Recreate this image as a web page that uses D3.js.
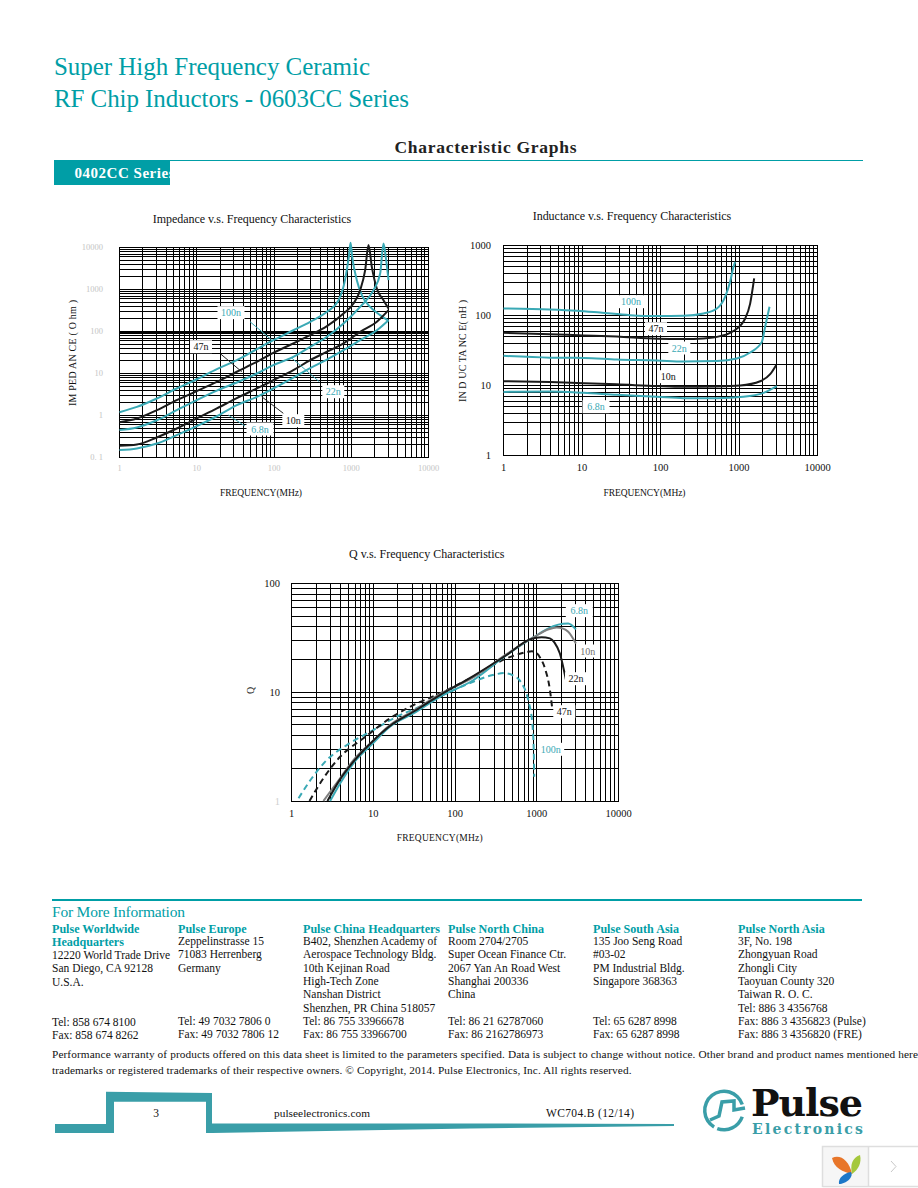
<!DOCTYPE html>
<html><head><meta charset="utf-8">
<script src="https://cdn.jsdelivr.net/npm/d3@7/dist/d3.min.js"></script>
<style>html,body{margin:0;padding:0;background:#fff;overflow:hidden}svg{display:block}text{font-family:"Liberation Serif",serif}</style>
</head><body><svg id="page" width="918" height="1188"></svg>
<script>
// ---------- data ----------
const impFreqCommon = [1,1.68,3.04,5.5,10,18.2,33,60,98,178,294,485];
const impFreq100 = [...impFreqCommon,685,830,930,980,1028,1181,1371,1758,2368,3036];
const imp100 = [1.2,1.6,2.54,4.4,7.3,12.7,20.8,38,62,107,170,294,557,1670,6000,12900,6000,1670,733,386,245,179];
const impFreq47 = [...impFreqCommon,794,1069,1304,1514,1672,1847,2143,2614,3036];
const imp47 = [0.69,0.85,1.34,2.32,3.8,6.3,11,19,31,52,82,134,268,464,964,2885,11400,3467,1056,557,353];
const impFreq22 = [...impFreqCommon,794,1304,1941,2368,2614,2831,3036];
const imp22 = [0.45,0.52,0.77,1.34,2.32,3.9,6.1,10,15.8,25,43,75,155,386,964,2400,12400,4990,1670];
const impFreq10 = [...impFreqCommon,794,1304,2143,3036];
const imp10 = [0.19,0.204,0.30,0.49,0.85,1.47,2.6,4.4,6.9,12,20.8,33,52,98,170,322];
const impFreq68 = [...impFreqCommon,794,1304,2143,3036];
const imp68 = [0.15,0.164,0.215,0.34,0.557,0.96,1.76,2.78,4.4,8.0,13.5,21.5,36,62,107,186];

const indFreq100 = [1,3.93,8.6,17,41,90,196,353,522,666,771,851,893];
const ind100 = [126,122,117,110,101,98,99,107,126,185,303,496,584];
const indFreq47 = [1,3.93,10.5,27.8,90,196,353,575,851,1199,1387,1560];
const ind47 = [56.5,54,52,50,46.4,46,47,50.7,60,90.6,148,338];
const indFreq22 = [1,3.93,10.5,27.8,90,196,522,938,1387,1954,2153,2447];
const ind22 = [26.5,25,24.8,23.5,22.8,22,22.3,24.3,29.6,42,69,133];
const indFreq10 = [1,3.93,10.5,27.8,90,196,522,1035,1860,2495,2972];
const ind10 = [11.5,11.2,10.8,10.4,9.8,9.57,9.68,10,11.5,14.5,19.5];
const indFreq68 = [1,3.93,10.5,27.8,90,196,522,1140,2052,3034];
const ind68 = [8.1,8.2,7.85,7.35,6.9,6.6,6.6,6.9,7.85,9.8];

const qFreq68 = [2.97,3.93,5.72,9.7,16,31,65.5,167,428,906,1591,2100,2427,3012];
const q68 = [1,1.45,2.22,3.34,4.82,6.39,9.09,12.9,22,31.9,40.5,42.6,42.9,37.8];
const qFreq10 = [2.46,3.93,5.72,9.7,16,31,65.5,167,428,906,1400,1747,2100,2427,3012];
const q10 = [1,1.62,2.38,3.51,4.99,6.76,9.62,13.7,22.4,31.9,38,39.4,38.5,36,28.1];
const qFreq22 = [2.75,3.93,5.72,9.7,16,31,65.5,167,428,825,1147,1449,1650,1919,2148,2271];
const q22 = [1,1.58,2.3,3.51,4.89,6.62,9.42,14.1,22,30.6,32,31.3,28.6,22.7,16,13.1];
const qFreq47 = [1.66,2.46,3.93,7.58,16,31,65.5,167,428,751,870,995,1100,1259,1449,1546];
const q47 = [1,1.62,2.55,3.77,5.75,7.62,9.75,13.9,20.5,23.4,23.8,22.9,20.8,16.6,10.5,7.1];
const qFreq100 = [1.22,1.77,2.7,4.75,10,19.4,37,79,167,290,400,520,653,787,890,923,931];
const q100 = [1.06,1.62,2.38,3.27,4.49,5.96,7.36,9.75,12.5,14.4,15,14.2,12.1,8.47,4.82,2.55,1.67];

const xTickLabels = ["1","10","100","1000","10000"];
const impYLabels = ["0. 1","1","10","100","1000","10000"];
const indYLabels = ["1","10","100","1000"];
const qYLabels = ["1","10","100"];

const officeCols = [
 {h:["Pulse Worldwide","Headquarters"],l:["12220 World Trade Drive","San Diego, CA 92128","U.S.A.","","","Tel: 858 674 8100","Fax: 858 674 8262"]},
 {h:["Pulse Europe"],l:["Zeppelinstrasse 15","71083 Herrenberg","Germany","","","","Tel: 49 7032 7806 0","Fax: 49 7032 7806 12"]},
 {h:["Pulse China Headquarters"],l:["B402, Shenzhen Academy of","Aerospace Technology Bldg.","10th Kejinan Road","High-Tech Zone","Nanshan District","Shenzhen, PR China 518057","Tel: 86 755 33966678","Fax: 86 755 33966700"]},
 {h:["Pulse North China"],l:["Room 2704/2705","Super Ocean Finance Ctr.","2067 Yan An Road West","Shanghai 200336","China","","Tel: 86 21 62787060","Fax: 86 2162786973"]},
 {h:["Pulse South Asia"],l:["135 Joo Seng Road","#03-02","PM Industrial Bldg.","Singapore 368363","","","Tel: 65 6287 8998","Fax: 65 6287 8998"]},
 {h:["Pulse North Asia"],l:["3F, No. 198","Zhongyuan Road","Zhongli City","Taoyuan County 320","Taiwan R. O. C.","Tel: 886 3 4356768","Fax: 886 3 4356823 (Pulse)","Fax: 886 3 4356820 (FRE)"]}
];

// ---------- helpers ----------
const svg = d3.select("#page");
const TEAL="#009ea6", CURVE="#3aa9b5", BAND="#3a9ea8", INK="#111";
function txt(g,x,y,s,o={}){
  const t=g.append("text").attr("x",x).attr("y",y).text(s)
    .attr("font-size",o.size||11).attr("fill",o.fill||INK)
    .attr("font-weight",o.weight||"normal").attr("text-anchor",o.anchor||"start");
  if(o.len) t.attr("textLength",o.len).attr("lengthAdjust","spacing");
  if(o.family) t.style("font-family",o.family);
  return t;
}
function minorTicks(lo,hi){const a=[];for(let d=lo;d<hi;d++)for(let m=1;m<10;m++)a.push(m*Math.pow(10,d));a.push(Math.pow(10,hi));return a;}

function chart(c){
  const g=svg.append("g");
  const x=d3.scaleLog().domain([1,10000]).range([c.x0,c.x1]);
  const y=d3.scaleLog().domain(c.yDomain).range([c.y1,c.y0]);
  const yLo=Math.round(Math.log10(c.yDomain[0])), yHi=Math.round(Math.log10(c.yDomain[1]));
  const gx=g.append("g").attr("transform",`translate(0,${c.y1})`)
    .call(d3.axisBottom(x).offset(0).tickValues(minorTicks(0,4)).tickSize(-(c.y1-c.y0)).tickFormat(""));
  const gy=g.append("g").attr("transform",`translate(${c.x0},0)`)
    .call(d3.axisLeft(y).offset(0).tickValues(minorTicks(yLo,yHi)).tickSize(-(c.x1-c.x0)).tickFormat(""));
  [gx,gy].forEach(a=>{a.selectAll("line").attr("stroke","#000").attr("stroke-width",1).attr("shape-rendering","crispEdges");
    a.select(".domain").attr("stroke","#000").attr("shape-rendering","crispEdges");});
  if(c.heavy) gy.selectAll(".tick").filter(d=>d===c.heavy).select("line").attr("stroke-width",2);
  // tick labels
  xTickLabels.forEach((s,i)=>txt(g,x(Math.pow(10,i))+(c.xLabelDx||0),c.xLabelY,s,{size:c.tickSize,fill:c.xTickFill,anchor:"middle"}));
  c.yLabels.forEach((s,i)=>{
    const fill=(c.firstYFill&&i===0)?c.firstYFill:c.yTickFill;
    txt(g,c.yLabelX,y(Math.pow(10,yLo+i))+c.tickSize*0.34,s,{size:c.tickSize,fill,anchor:"end"});
  });
  // curves
  const line=d3.line().x(d=>x(d[0])).y(d=>y(d[1])).curve(d3.curveMonotoneX);
  c.series.forEach(s=>{
    g.append("path").datum(d3.zip(s.f,s.v)).attr("d",line).attr("fill","none")
     .attr("stroke",s.color).attr("stroke-width",s.w||2).attr("stroke-dasharray",s.dash||null);
  });
  // annotations
  (c.leaders||[]).forEach(l=>g.append("line").attr("x1",l[0]).attr("y1",l[1]).attr("x2",l[2]).attr("y2",l[3]).attr("stroke",l[4]).attr("stroke-width",1));
  (c.notes||[]).forEach(n=>{
    const w=n.t.length*5+7;
    g.append("rect").attr("x",n.x-w/2).attr("y",n.y-6.5).attr("width",w).attr("height",13).attr("fill","#fff");
    txt(g,n.x,n.y+3.5,n.t,{size:10,fill:n.c,anchor:"middle"});
  });
  return g;
}

// ---------- header ----------
const head=svg.append("g");
txt(head,54,75,"Super High Frequency Ceramic",{size:25,fill:TEAL,len:316});
txt(head,54,106.5,"RF Chip Inductors - 0603CC Series",{size:25,fill:TEAL,len:355});
txt(head,394.5,152.5,"Characteristic Graphs",{size:17.5,weight:"bold",fill:"#222",len:182});
head.append("line").attr("x1",54).attr("x2",863).attr("y1",160.5).attr("y2",160.5).attr("stroke",TEAL).attr("stroke-width",1);
head.append("rect").attr("x",54).attr("y",161).attr("width",116).attr("height",24).attr("fill",TEAL);
svg.append("clipPath").attr("id","seriesClip").append("rect").attr("x",54).attr("y",161).attr("width",116).attr("height",24);
txt(head.append("g").attr("clip-path","url(#seriesClip)"),74.5,178,"0402CC Series",{size:15,weight:"bold",fill:"#fff",len:100});

// ---------- charts ----------
chart({x0:119.5,x1:428.5,y0:247.5,y1:457.5,yDomain:[0.1,10000],heavy:100,
  tickSize:8.5,xTickFill:"#c4c4c4",yTickFill:"#c4c4c4",xLabelY:471,yLabelX:103,yLabels:impYLabels,
  series:[
   {f:impFreq100,v:imp100,color:CURVE},{f:impFreq47,v:imp47,color:"#1a1a1a"},
   {f:impFreq22,v:imp22,color:CURVE},{f:impFreq10,v:imp10,color:"#1a1a1a"},{f:impFreq68,v:imp68,color:CURVE}],
  leaders:[[250,321.7,271.7,340,CURVE],[220.7,354,241.7,371.7,"#222"],[291.7,358,319.3,381.7,CURVE],[261.7,396.7,283.3,413.3,"#222"],[228.3,415,245,426,CURVE]],
  notes:[{t:"100n",x:231,y:312.7,c:CURVE},{t:"47n",x:201,y:346.7,c:INK},{t:"22n",x:333.3,y:391.7,c:CURVE},{t:"10n",x:293.3,y:420.7,c:INK},{t:"6.8n",x:260,y:429,c:CURVE}]
});
chart({x0:503.5,x1:817.5,y0:245.5,y1:455.5,yDomain:[1,1000],
  tickSize:10.5,xTickFill:INK,yTickFill:INK,xLabelY:471,yLabelX:491,yLabels:indYLabels,
  series:[
   {f:indFreq100,v:ind100,color:CURVE},{f:indFreq47,v:ind47,color:"#1a1a1a"},
   {f:indFreq22,v:ind22,color:CURVE},{f:indFreq10,v:ind10,color:"#1a1a1a"},{f:indFreq68,v:ind68,color:CURVE}],
  notes:[{t:"100n",x:631,y:301.7,c:CURVE},{t:"47n",x:656,y:328.7,c:INK},{t:"22n",x:679.3,y:348,c:CURVE},{t:"10n",x:668.3,y:376.7,c:INK},{t:"6.8n",x:596,y:406.7,c:CURVE}]
});
chart({x0:291.5,x1:618.5,y0:583.5,y1:801,yDomain:[1,100],
  tickSize:10.5,xTickFill:INK,yTickFill:INK,firstYFill:"#d0d0d0",xLabelY:817,yLabelX:280,yLabels:qYLabels,
  series:[
   {f:qFreq100,v:q100,color:CURVE,dash:"6,4"},{f:qFreq47,v:q47,color:"#1a1a1a",dash:"6,4"},
   {f:qFreq68,v:q68,color:CURVE},{f:qFreq10,v:q10,color:"#808080"},{f:qFreq22,v:q22,color:"#1a1a1a"}],
  notes:[{t:"6.8n",x:579.3,y:610.7,c:CURVE},{t:"10n",x:587.7,y:651,c:"#707070"},{t:"22n",x:576,y:678.7,c:INK},{t:"47n",x:564.3,y:711.7,c:INK},{t:"100n",x:550.7,y:749.3,c:CURVE}]
});

// chart titles and axis captions
const cap=svg.append("g");
txt(cap,152.7,223,"Impedance v.s. Frequency Characteristics",{size:12,len:198.5});
txt(cap,532.7,220,"Inductance v.s. Frequency Characteristics",{size:12,len:198.5});
txt(cap,349,558,"Q v.s. Frequency Characteristics",{size:12,len:155.5});
txt(cap,220,496,"FREQUENCY(MHz)",{size:9.5,len:82});
txt(cap,603.5,496,"FREQUENCY(MHz)",{size:9.5,len:82});
txt(cap,396.7,840.7,"FREQUENCY(MHz)",{size:9.5,len:86});
function vtext(x,y,s,len,size){txt(cap,0,0,s,{size:size||10,len}).attr("transform",`translate(${x},${y}) rotate(-90)`);}
vtext(75.5,406,"IM PED  AN CE ( O hm  )",106);
vtext(465.5,402,"IN D UC  TA  NC  E( nH  )",102);
vtext(253.5,694,"Q",7);

// ---------- footer ----------
const foot=svg.append("g");
foot.append("line").attr("x1",52).attr("x2",862).attr("y1",900).attr("y2",900).attr("stroke",TEAL).attr("stroke-width",2);
txt(foot,52,916.7,"For More Information",{size:15.5,fill:TEAL,len:133});
const colX=[52,178,303,448,593,738], LH=13.35;
officeCols.forEach((c,i)=>{
  c.h.forEach((s,j)=>txt(foot,colX[i],932.7+j*13,s,{size:12.1,weight:"bold",fill:TEAL}));
  c.l.forEach((s,j)=>{ if(s) txt(foot,colX[i],(932.7+c.h.length*13)+j*LH-(c.h.length===2?-0.3:0.7),s,{size:11.5}); });
});
txt(foot,52,1058,"Performance warranty of products offered on this data sheet is limited to the parameters specified. Data is subject to change without notice. Other brand and product names mentioned here",{size:11.3,len:866});
txt(foot,52,1074,"trademarks or registered trademarks of their respective owners. © Copyright, 2014. Pulse Electronics, Inc. All rights reserved.",{size:11.3,len:579.5});

// page band
foot.append("path").attr("fill",BAND).attr("d","M55,1124H106V1091.7L212,1093V1123.5L470,1123.5L674,1124V1126L470,1128.5L212,1133H206V1101.7H114V1133H55Z");
txt(foot,156,1116.7,"3",{size:11.5,anchor:"middle"});
txt(foot,274,1116.5,"pulseelectronics.com",{size:11.3,len:96});
txt(foot,546,1116.7,"WC704.B (12/14)",{size:11.5,len:88});

// logo
const logo=svg.append("g");
const arc=d3.arc().innerRadius(17.5).outerRadius(21);
logo.append("path").attr("transform","translate(724,1110.5)").attr("fill",BAND).attr("d",arc({startAngle:-2.6,endAngle:1.25}));
logo.append("path").attr("transform","translate(724,1110.5)").attr("fill",BAND).attr("d",arc({startAngle:1.9,endAngle:3.5}));
logo.append("path").attr("fill","none").attr("stroke",BAND).attr("stroke-width",3.5).attr("stroke-linejoin","miter")
  .attr("d","M710,1120L719,1116L722,1102L734,1101L734,1110L745,1108");
txt(logo,751,1116,"Pulse",{size:38,weight:"bold",fill:"#111",len:112,family:"'DejaVu Serif',serif"});
txt(logo,752,1133.5,"Electronics",{size:14,weight:"bold",fill:BAND,len:111,family:"'DejaVu Serif',serif"});

// viewer widget
const w=svg.append("g");
w.append("rect").attr("x",822.5).attr("y",1146.5).attr("width",46).attr("height",39).attr("fill","#f6f6f6");
w.append("path").attr("fill","none").attr("stroke","#dedede").attr("stroke-width",1.5).attr("d","M822.5,1187V1146.5H918M868.5,1146.5V1187M822.5,1186.5H918");
w.append("path").attr("fill","#e8762a").attr("d","M832,1158C840,1154 849,1160 852,1174C843,1172 834,1168 832,1158Z");
w.append("path").attr("fill","#a5c83c").attr("d","M860,1155C862,1163 858,1170 852,1174C850,1165 852,1158 860,1155Z");
w.append("path").attr("fill","#1c78c8").attr("d","M851,1172C854,1177 846,1184 839,1184C838,1178 844,1173 851,1172Z");
w.append("path").attr("fill","none").attr("stroke","#c8c8c8").attr("stroke-width",1).attr("d","M891,1161L896,1166.5L891,1172");
</script></body></html>
